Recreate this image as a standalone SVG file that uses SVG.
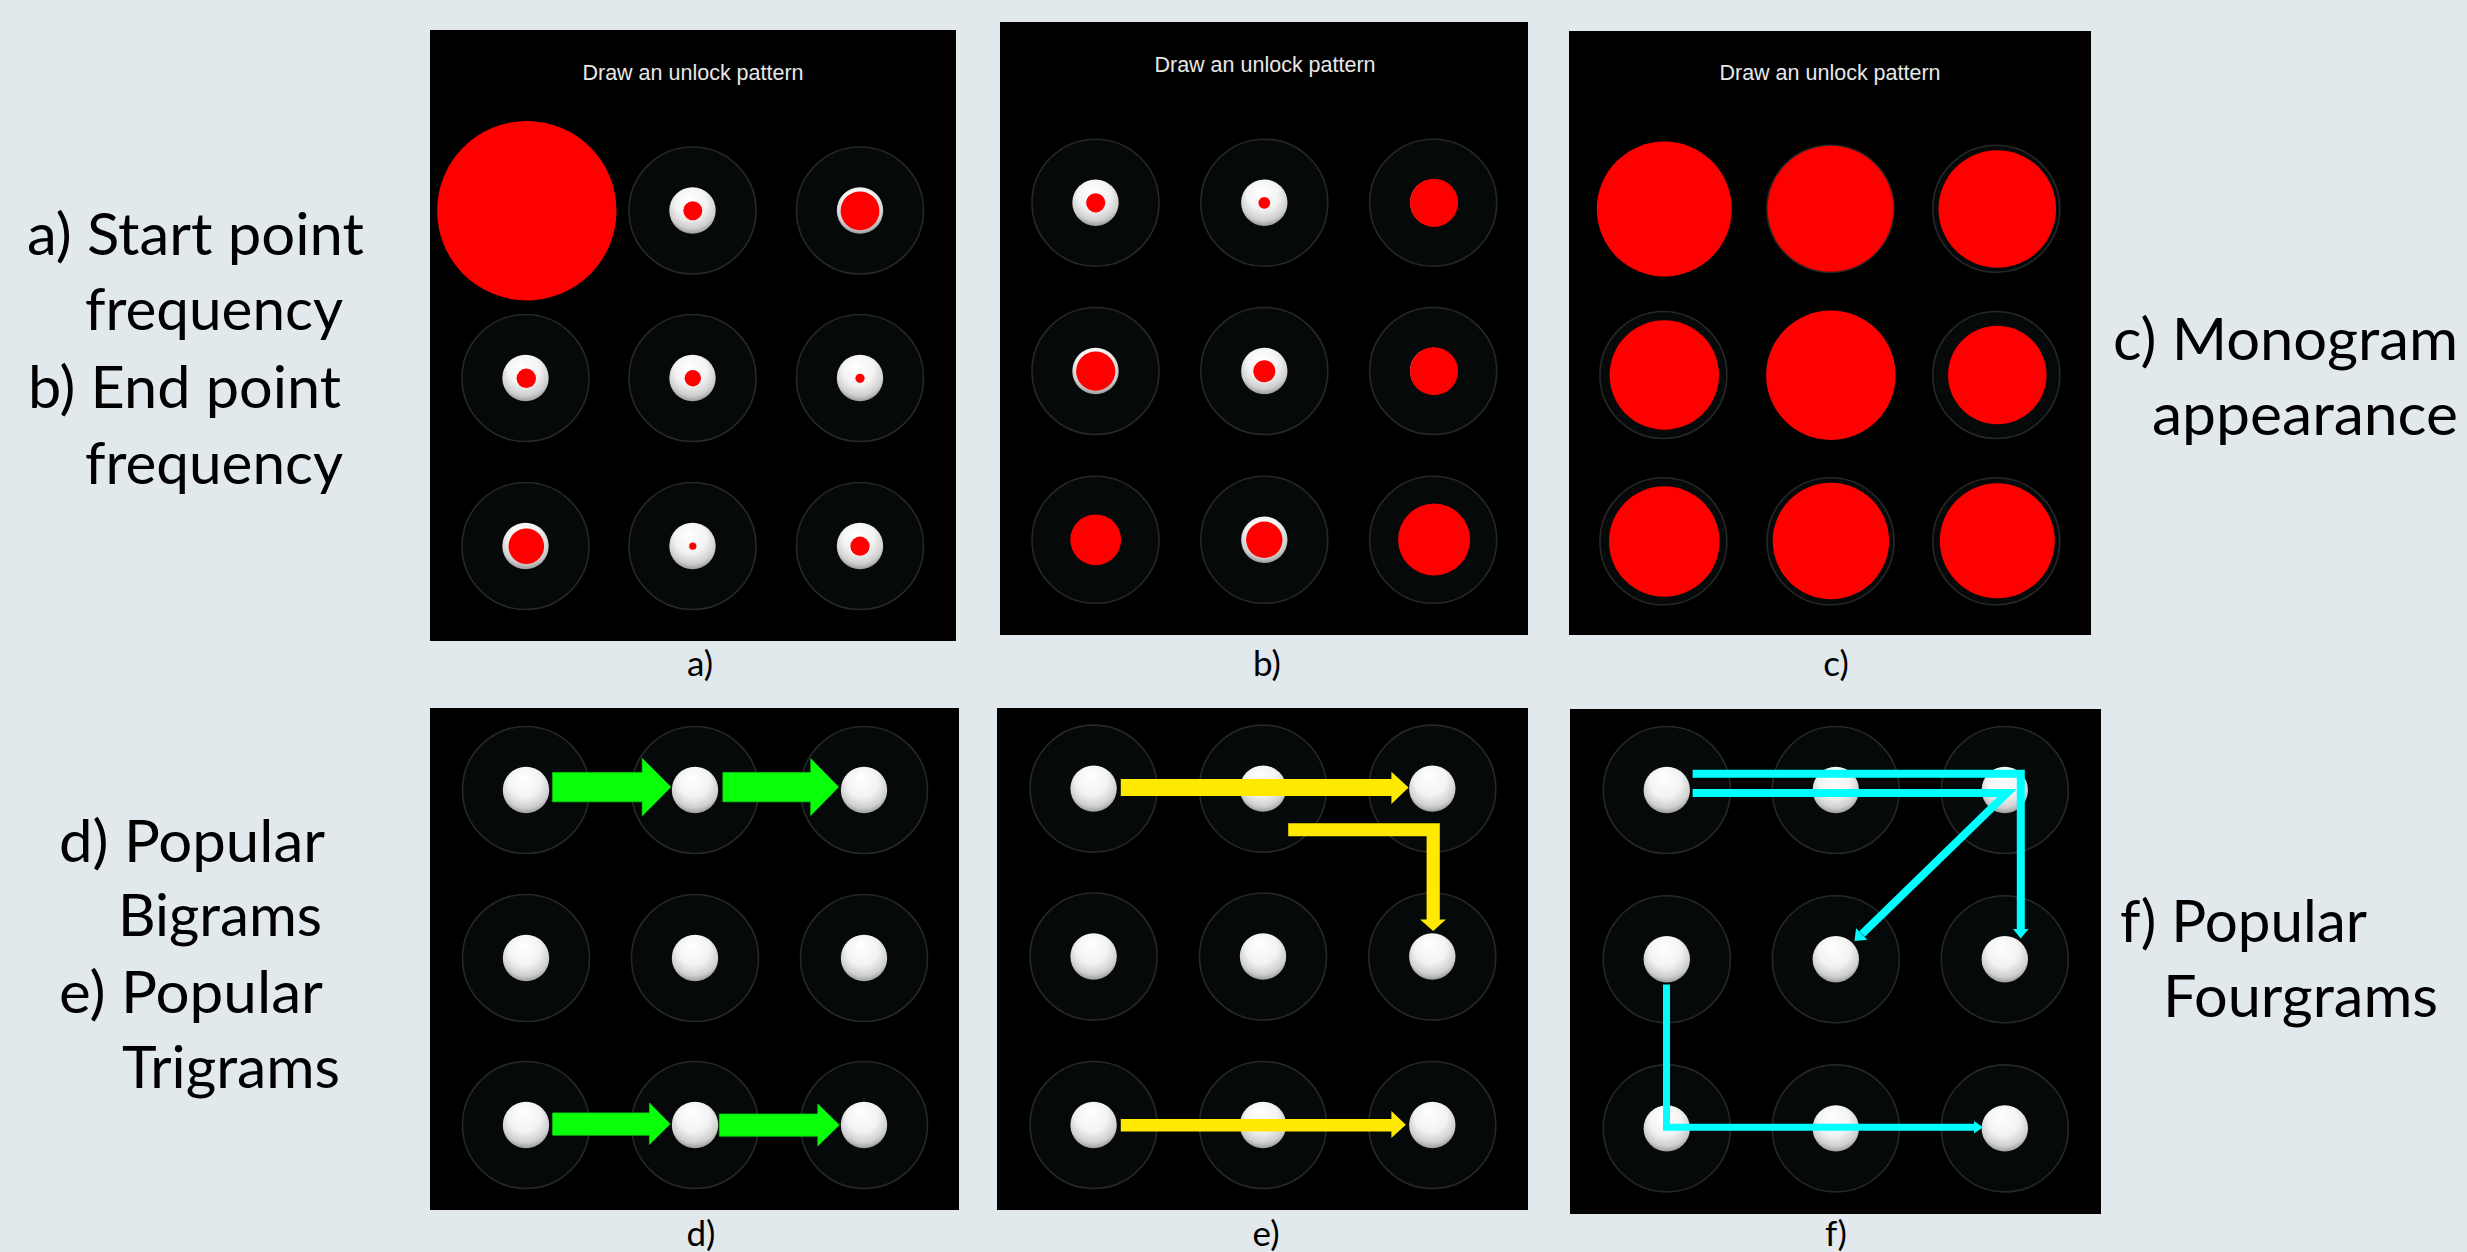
<svg xmlns="http://www.w3.org/2000/svg" xmlns:xlink="http://www.w3.org/1999/xlink" width="2467" height="1252" viewBox="0 0 2467 1252">
<defs>
<radialGradient id="gdot" cx="0.5" cy="0.38" r="0.62" fx="0.42" fy="0.22">
<stop offset="0" stop-color="#ffffff"/>
<stop offset="0.55" stop-color="#f3f3f3"/>
<stop offset="0.85" stop-color="#cfcfcf"/>
<stop offset="1" stop-color="#9c9c9c"/>
</radialGradient>
<g id="cell">
<circle class="ring" r="63.5"/>
<circle class="dot" r="23.2"/>
</g>
<g id="ringonly">
<circle class="ring" r="63.5"/>
</g>
<style>
.ring{fill:#060909;stroke:#262828;stroke-width:1.6}
.dot{fill:url(#gdot)}
.red{fill:#ff0000}
.panel{fill:#000000}
.title{font-family:"Liberation Sans",Arial,sans-serif;font-size:21.5px;fill:#e8e8e8;text-anchor:middle}
.side{font-family:Lato,"Open Sans",sans-serif;font-size:58px;fill:#000000}
.cap{font-family:Lato,"Open Sans",sans-serif;font-size:35px;fill:#000000;text-anchor:middle}
.green{fill:#0aff0a;stroke:#11cc11;stroke-width:0.8}
.yellow{fill:#ffe900}
.cyan{fill:none;stroke:#00ffff;stroke-width:8;stroke-linejoin:miter;stroke-linecap:butt}
.cyanhead{fill:#00ffff}
</style>
</defs>
<rect width="2467" height="1252" fill="#e1e9ed"/>

<g id="side-labels">
<text class="side" x="27" y="255" textLength="337" lengthAdjust="spacingAndGlyphs">a) Start point</text>
<text class="side" x="85" y="330" textLength="258" lengthAdjust="spacingAndGlyphs">frequency</text>
<text class="side" x="28" y="408" textLength="313" lengthAdjust="spacingAndGlyphs">b) End point</text>
<text class="side" x="85" y="484" textLength="258" lengthAdjust="spacingAndGlyphs">frequency</text>
<text class="side" x="59" y="862" textLength="266" lengthAdjust="spacingAndGlyphs">d) Popular</text>
<text class="side" x="118" y="936" textLength="204" lengthAdjust="spacingAndGlyphs">Bigrams</text>
<text class="side" x="59" y="1013" textLength="264" lengthAdjust="spacingAndGlyphs">e) Popular</text>
<text class="side" x="122" y="1088" textLength="218" lengthAdjust="spacingAndGlyphs">Trigrams</text>
<text class="side" x="2113" y="360" textLength="345" lengthAdjust="spacingAndGlyphs">c) Monogram</text>
<text class="side" x="2152" y="435" textLength="306" lengthAdjust="spacingAndGlyphs">appearance</text>
<text class="side" x="2120" y="942" textLength="247" lengthAdjust="spacingAndGlyphs">f) Popular</text>
<text class="side" x="2163" y="1017" textLength="275" lengthAdjust="spacingAndGlyphs">Fourgrams</text>
</g>

<g id="captions">
<text class="cap" x="700" y="676">a)</text>
<text class="cap" x="1267" y="676">b)</text>
<text class="cap" x="1836" y="676">c)</text>
<text class="cap" x="701" y="1246">d)</text>
<text class="cap" x="1266" y="1246">e)</text>
<text class="cap" x="1836" y="1246">f)</text>
</g>

<g id="panel-a">
<rect class="panel" x="430" y="30" width="526" height="611"/>
<text class="title" x="693" y="80">Draw an unlock pattern</text>
<g id="a-r1c1"><use xlink:href="#cell" x="525.5" y="210.5"/><circle class="red" cx="526.8" cy="210.7" r="89.7"/></g>
<g id="a-r1c2"><use xlink:href="#cell" x="692.5" y="210.5"/><circle class="red" cx="692.8" cy="210.8" r="9.5"/></g>
<g id="a-r1c3"><use xlink:href="#cell" x="860" y="210.5"/><circle class="red" cx="860" cy="210.8" r="19.4"/></g>
<g id="a-r2c1"><use xlink:href="#cell" x="525.5" y="378"/><circle class="red" cx="526.3" cy="378.3" r="9.7"/></g>
<g id="a-r2c2"><use xlink:href="#cell" x="692.5" y="378"/><circle class="red" cx="692.8" cy="378.3" r="8.2"/></g>
<g id="a-r2c3"><use xlink:href="#cell" x="860" y="378"/><circle class="red" cx="860" cy="378.3" r="4.6"/></g>
<g id="a-r3c1"><use xlink:href="#cell" x="525.5" y="546"/><circle class="red" cx="526.3" cy="546.2" r="17.8"/></g>
<g id="a-r3c2"><use xlink:href="#cell" x="692.5" y="546"/><circle class="red" cx="692.8" cy="546.2" r="3.6"/></g>
<g id="a-r3c3"><use xlink:href="#cell" x="860" y="546"/><circle class="red" cx="860" cy="546.2" r="9.6"/></g>
</g>

<g id="panel-b">
<rect class="panel" x="1000" y="22" width="528" height="613"/>
<text class="title" x="1265" y="72">Draw an unlock pattern</text>
<g id="b-r1c1"><use xlink:href="#cell" x="1095.5" y="202.7"/><circle class="red" cx="1095.7" cy="202.8" r="9.6"/></g>
<g id="b-r1c2"><use xlink:href="#cell" x="1264.3" y="202.7"/><circle class="red" cx="1264.3" cy="202.8" r="5.9"/></g>
<g id="b-r1c3"><use xlink:href="#cell" x="1433.2" y="202.7"/><circle class="red" cx="1434" cy="202.8" r="24.1"/></g>
<g id="b-r2c1"><use xlink:href="#cell" x="1095.5" y="371"/><circle class="red" cx="1095.7" cy="371.2" r="19.6"/></g>
<g id="b-r2c2"><use xlink:href="#cell" x="1264.3" y="371"/><circle class="red" cx="1264.3" cy="371.2" r="11"/></g>
<g id="b-r2c3"><use xlink:href="#cell" x="1433.2" y="371"/><circle class="red" cx="1434" cy="371.2" r="24"/></g>
<g id="b-r3c1"><use xlink:href="#cell" x="1095.5" y="539.8"/><circle class="red" cx="1095.7" cy="539.8" r="25.4"/></g>
<g id="b-r3c2"><use xlink:href="#cell" x="1264.3" y="539.8"/><circle class="red" cx="1264.3" cy="539.8" r="18.2"/></g>
<g id="b-r3c3"><use xlink:href="#cell" x="1433.2" y="539.8"/><circle class="red" cx="1434.1" cy="539.6" r="36"/></g>
</g>

<g id="panel-c">
<rect class="panel" x="1569" y="31" width="522" height="604"/>
<text class="title" x="1830" y="80">Draw an unlock pattern</text>
<g id="c-r1c1"><use xlink:href="#ringonly" x="1663.4" y="208.8"/><circle class="red" cx="1664.3" cy="209" r="67.5"/></g>
<g id="c-r1c2"><use xlink:href="#ringonly" x="1830.5" y="208.8"/><circle class="red" cx="1830.5" cy="208.8" r="63"/></g>
<g id="c-r1c3"><use xlink:href="#ringonly" x="1996.3" y="208.8"/><circle class="red" cx="1997.3" cy="209" r="58.8"/></g>
<g id="c-r2c1"><use xlink:href="#ringonly" x="1663.4" y="375"/><circle class="red" cx="1664.3" cy="375" r="54.7"/></g>
<g id="c-r2c2"><use xlink:href="#ringonly" x="1830.5" y="375"/><circle class="red" cx="1830.9" cy="375.2" r="64.7"/></g>
<g id="c-r2c3"><use xlink:href="#ringonly" x="1996.3" y="375"/><circle class="red" cx="1997.3" cy="375" r="49.3"/></g>
<g id="c-r3c1"><use xlink:href="#ringonly" x="1663.4" y="541.3"/><circle class="red" cx="1664.3" cy="541.5" r="55.3"/></g>
<g id="c-r3c2"><use xlink:href="#ringonly" x="1830.5" y="541.3"/><circle class="red" cx="1830.9" cy="541" r="58.2"/></g>
<g id="c-r3c3"><use xlink:href="#ringonly" x="1996.3" y="541.3"/><circle class="red" cx="1997.3" cy="540.8" r="57.5"/></g>
</g>

<g id="panel-d">
<rect class="panel" x="430" y="708" width="529" height="502"/>
<g id="d-r1c1"><use xlink:href="#cell" x="526" y="790"/></g>
<g id="d-r1c2"><use xlink:href="#cell" x="695" y="790"/></g>
<g id="d-r1c3"><use xlink:href="#cell" x="864" y="790"/></g>
<g id="d-r2c1"><use xlink:href="#cell" x="526" y="958"/></g>
<g id="d-r2c2"><use xlink:href="#cell" x="695" y="958"/></g>
<g id="d-r2c3"><use xlink:href="#cell" x="864" y="958"/></g>
<g id="d-r3c1"><use xlink:href="#cell" x="526" y="1125"/></g>
<g id="d-r3c2"><use xlink:href="#cell" x="695" y="1125"/></g>
<g id="d-r3c3"><use xlink:href="#cell" x="864" y="1125"/></g>
</g>

<g id="panel-e">
<rect class="panel" x="997" y="708" width="531" height="502"/>
<g id="e-r1c1"><use xlink:href="#cell" x="1093.6" y="788.6"/></g>
<g id="e-r1c2"><use xlink:href="#cell" x="1263" y="788.6"/></g>
<g id="e-r1c3"><use xlink:href="#cell" x="1432.3" y="788.6"/></g>
<g id="e-r2c1"><use xlink:href="#cell" x="1093.6" y="956.5"/></g>
<g id="e-r2c2"><use xlink:href="#cell" x="1263" y="956.5"/></g>
<g id="e-r2c3"><use xlink:href="#cell" x="1432.3" y="956.5"/></g>
<g id="e-r3c1"><use xlink:href="#cell" x="1093.6" y="1125"/></g>
<g id="e-r3c2"><use xlink:href="#cell" x="1263" y="1125"/></g>
<g id="e-r3c3"><use xlink:href="#cell" x="1432.3" y="1125"/></g>
</g>

<g id="panel-f">
<rect class="panel" x="1570" y="709" width="531" height="505"/>
<g id="f-r1c1"><use xlink:href="#cell" x="1666.8" y="790"/></g>
<g id="f-r1c2"><use xlink:href="#cell" x="1835.8" y="790"/></g>
<g id="f-r1c3"><use xlink:href="#cell" x="2004.8" y="790"/></g>
<g id="f-r2c1"><use xlink:href="#cell" x="1666.8" y="959.2"/></g>
<g id="f-r2c2"><use xlink:href="#cell" x="1835.8" y="959.2"/></g>
<g id="f-r2c3"><use xlink:href="#cell" x="2004.8" y="959.2"/></g>
<g id="f-r3c1"><use xlink:href="#cell" x="1666.8" y="1128.4"/></g>
<g id="f-r3c2"><use xlink:href="#cell" x="1835.8" y="1128.4"/></g>
<g id="f-r3c3"><use xlink:href="#cell" x="2004.8" y="1128.4"/></g>
</g>

<g id="connectors">
<polygon class="green" points="552.6,772.4 642.2,772.4 642.2,758.3 670.9,787 642.2,816 642.2,801.8 552.6,801.8"/>
<polygon class="green" points="722.9,772.4 810.7,772.4 810.7,758.5 838.6,787 810.7,815.6 810.7,801.8 722.9,801.8"/>
<polygon class="green" points="552.6,1112.9 649.4,1112.9 649.4,1102.9 670.2,1124 649.4,1144.5 649.4,1135.2 552.6,1135.2"/>
<polygon class="green" points="719.3,1114 817.8,1114 817.8,1104 839.4,1125 817.8,1146 817.8,1136.2 719.3,1136.2"/>

<polygon class="yellow" points="1120.8,778.9 1391.4,778.9 1391.4,771.7 1408.6,787.5 1391.4,804 1391.4,796.1 1120.8,796.1"/>
<polygon class="yellow" points="1288.2,823.3 1439.8,823.3 1439.8,919.4 1445.9,919.4 1433.2,930.9 1420.1,919.4 1426.6,919.4 1426.6,836.2 1288.2,836.2"/>
<polygon class="yellow" points="1120.8,1119 1391.4,1119 1391.4,1111.1 1405.8,1124.8 1391.4,1138 1391.4,1131.6 1120.8,1131.6"/>

<polyline class="cyan" points="1692.6,773.7 2020.8,773.7 2020.8,930"/>
<polygon class="cyanhead" points="2013,929 2028.5,929 2020.8,938.5"/>
<polyline class="cyan" points="1692.6,793 2007,793 1862,934"/>
<polygon class="cyanhead" points="1854.5,941 1856.1,928.3 1867.3,939.8"/>
<polyline class="cyan" style="stroke-width:7" points="1666.5,984.6 1666.5,1127.3 1975,1127.3"/>
<polygon class="cyanhead" points="1974,1121 1974,1133.6 1983,1127.3"/>
</g>
</svg>
